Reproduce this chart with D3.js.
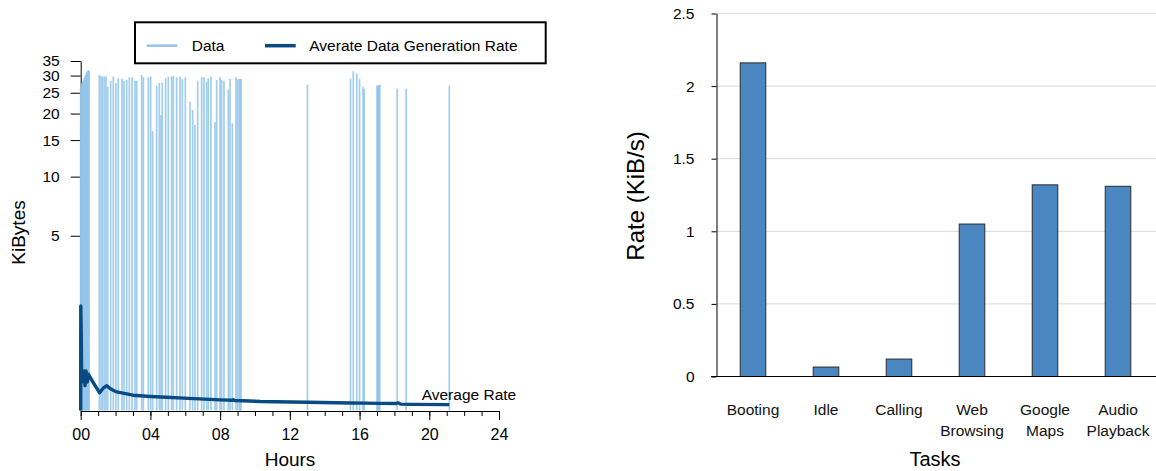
<!DOCTYPE html>
<html><head><meta charset="utf-8">
<script src="https://cdn.jsdelivr.net/npm/d3@7"></script>
<style>
body{margin:0;background:#fff}
svg{display:block}
text{font-family:"Liberation Sans",Arial,sans-serif;fill:#000}
</style>
</head><body>
<svg id="c" width="1156" height="471"></svg>
<script>
// ---------- Left chart data ----------
const spikeHours = [
  0.00,0.04,0.06,0.08,0.12,0.16,0.20,0.24,0.28,0.32,0.36,0.40,0.44,0.48,
  1.069,1.165,1.26,1.356,1.452,1.547,1.719,1.872,2.025,2.159,2.37,2.484,2.637,2.79,2.943,3.115,3.211,
  3.498,3.593,3.88,4.014,4.129,4.358,4.511,4.607,4.683,4.875,5.028,5.219,5.314,5.506,5.697,5.831,6.003,
  6.271,6.424,6.558,6.711,6.94,7.074,7.227,7.323,7.476,7.705,7.801,7.992,8.088,8.222,8.47,8.566,8.7,
  8.91,9.006,9.1,9.15,9.197,
  13.01,15.48,15.64,15.84,16.0,16.2,16.26,17.0,17.04,17.08,17.12,17.16,18.16,18.67,21.15
];
const spikeKiB = [
  26.3,27.2,17.0,27.7,28.2,28.7,29.2,29.7,30.2,30.7,31.2,31.5,31.8,31.6,
  30.2,29.9,29.7,29.7,29.7,26.7,28.4,29.7,27.7,29.2,28.9,28.4,28.6,29.5,29.5,28.4,28.4,
  30.2,29.5,29.5,29.7,16.5,26.9,27.7,19.7,27.8,29.2,29.7,29.7,29.9,29.5,29.7,28.9,29.5,
  22.7,20.8,17.7,28.4,29.5,29.5,28.1,29.2,29.7,18.2,28.6,29.5,28.6,28.4,25.8,28.9,18.0,
  29.5,28.9,28.9,28.9,28.9,
  27.2,29.0,31.4,30.7,29.0,26.6,26.1,26.9,26.9,27.0,27.2,27.2,26.1,26.1,26.9
];
const avgHours = [0,0.005,0.03,0.055,0.1,0.151,0.2,0.247,0.304,0.38,0.45,0.55,0.8,1.08,1.3,1.5,1.7,2.06,3.0,4.0,4.9,5.9,6.8,8.0,8.7,8.76,8.82,9.3,10.3,13.0,15.5,16.3,17.2,18.1,18.2,18.35,19.0,21.15];
const avgKiB   = [0,1.92,1.2,0.34,0.45,0.38,0.5,0.29,0.5,0.34,0.45,0.4,0.3,0.2,0.26,0.29,0.25,0.21,0.17,0.155,0.145,0.135,0.126,0.115,0.11,0.118,0.108,0.105,0.097,0.088,0.08,0.078,0.076,0.074,0.082,0.068,0.065,0.062];
const hourTicks = [0,4,8,12,16,20,24];
const hourTickLabels = ["00","04","08","12","16","20","24"];
const minorHourTicks = d3.range(0,25,1);
const kibTicks = [5,10,15,20,25,30,35];
const legendLabels = ["Data","Averate Data Generation Rate"];

// ---------- Right chart data ----------
const tasks = ["Booting","Idle","Calling","Web Browsing","Google Maps","Audio Playback"];
const taskLabelLines = [["Booting"],["Idle"],["Calling"],["Web","Browsing"],["Google","Maps"],["Audio","Playback"]];
const rates = [2.16,0.065,0.12,1.05,1.32,1.31];
const rateTicks = [0,0.5,1,1.5,2,2.5];
const rateTickLabels = ["0","0.5","1","1.5","2","2.5"];

const svg = d3.select("#c");
const LIGHT = "#92c4ea", DARK = "#0a4a82";

// ================= LEFT =================
const x = d3.scaleLinear().domain([0,24]).range([80.7,499]);
const y = d3.scaleSymlog().constant(1).domain([0,35]).range([410.5,61]);
const L = svg.append("g");

// axes first (data drawn over them)
const xMinor = L.append("g").attr("transform","translate(0,411)")
  .call(d3.axisBottom(x).tickValues(minorHourTicks).tickSize(5).tickSizeOuter(0).tickFormat(""));
xMinor.select(".domain").attr("stroke","#000");
const xAx = L.append("g").attr("transform","translate(0,411)")
  .call(d3.axisBottom(x).tickValues(hourTicks).tickSize(9).tickSizeOuter(0).tickPadding(9)
    .tickFormat((d,i)=>hourTickLabels[i]));
xAx.selectAll("text").style("font-size","16px").style("font-family","Liberation Sans, Arial, sans-serif");
xAx.select(".domain").remove();

const yAx = L.append("g").attr("transform","translate(80.7,0)")
  .call(d3.axisLeft(y).tickValues(kibTicks).tickSize(10).tickSizeOuter(0).tickPadding(11));
yAx.selectAll("text").style("font-size","15.5px").style("font-family","Liberation Sans, Arial, sans-serif");

L.append("g").selectAll("line").data(spikeHours).join("line")
  .attr("x1",d=>x(d)).attr("x2",d=>x(d))
  .attr("y1",y(0)).attr("y2",(d,i)=>y(spikeKiB[i]))
  .attr("stroke",LIGHT).attr("stroke-width",1.7).attr("stroke-opacity",0.85);

const avgData = avgHours.map((h,i)=>[h,avgKiB[i]]);
L.append("path").datum(avgData)
  .attr("d",d3.line().x(d=>x(d[0])).y(d=>y(d[1])))
  .attr("fill","none").attr("stroke",DARK).attr("stroke-width",3.4).attr("stroke-linejoin","round");

L.append("text").attr("x",421.7).attr("y",399.5).style("font-size","15.5px").text("Average Rate");

L.append("text").attr("x",290).attr("y",466).attr("text-anchor","middle").style("font-size","19px").text("Hours");
L.append("text").attr("transform","translate(25,232.5) rotate(-90)").attr("text-anchor","middle").style("font-size","19px").text("KiBytes");

// legend
L.append("rect").attr("x",135).attr("y",22.3).attr("width",410.7).attr("height",41)
  .attr("fill","#fff").attr("stroke","#000").attr("stroke-width",2);
L.append("line").attr("x1",146.7).attr("x2",177.3).attr("y1",45.7).attr("y2",45.7).attr("stroke",LIGHT).attr("stroke-width",2.5);
L.append("line").attr("x1",265).attr("x2",295.7).attr("y1",45.7).attr("y2",45.7).attr("stroke",DARK).attr("stroke-width",3.5);
L.append("text").attr("x",191.7).attr("y",51).style("font-size","15.5px").text(legendLabels[0]);
L.append("text").attr("x",309.3).attr("y",51).style("font-size","15.5px").text(legendLabels[1]);

// ================= RIGHT =================
const xb = d3.scaleBand().domain(tasks).range([716.5,1154.5]).paddingInner(0.65).paddingOuter(0.325);
const yb = d3.scaleLinear().domain([0,2.5]).range([376.5,13.5]);
const R = svg.append("g");

R.append("g").selectAll("line").data(rateTicks.filter(d=>d>0)).join("line")
  .attr("x1",716.5).attr("x2",1156).attr("y1",d=>yb(d)).attr("y2",d=>yb(d))
  .attr("stroke","#d9d9d9").attr("stroke-width",1);

R.append("g").selectAll("rect").data(tasks).join("rect")
  .attr("x",d=>xb(d)).attr("width",xb.bandwidth())
  .attr("y",(d,i)=>yb(rates[i])).attr("height",(d,i)=>yb(0)-yb(rates[i]))
  .attr("fill","#4a86c0").attr("stroke","#2a2a2a").attr("stroke-width",1);

const yR = R.append("g").attr("transform","translate(716.5,0)")
  .call(d3.axisLeft(yb).tickValues(rateTicks).tickSize(5).tickSizeOuter(0).tickPadding(17)
    .tickFormat((d,i)=>rateTickLabels[i]));
yR.selectAll("text").style("font-size","15.5px").style("font-family","Liberation Sans, Arial, sans-serif");
R.append("line").attr("x1",711).attr("x2",1156).attr("y1",yb(0)).attr("y2",yb(0)).attr("stroke","#000");

const catG = R.append("g").selectAll("text").data(tasks).join("text")
  .attr("text-anchor","middle").attr("x",d=>xb(d)+xb.bandwidth()/2).attr("y",415)
  .style("font-size","15.5px").style("fill","#111");
catG.each(function(d,i){
  const t = d3.select(this);
  taskLabelLines[i].forEach((ln,j)=>{
    t.append("tspan").attr("x",xb(d)+xb.bandwidth()/2).attr("dy",j===0?0:21).text(ln);
  });
});

R.append("text").attr("x",935).attr("y",466).attr("text-anchor","middle").style("font-size","20px").text("Tasks");
R.append("text").attr("transform","translate(644,196) rotate(-90)").attr("text-anchor","middle").style("font-size","24px").text("Rate (KiB/s)");
</script>
</body></html>
